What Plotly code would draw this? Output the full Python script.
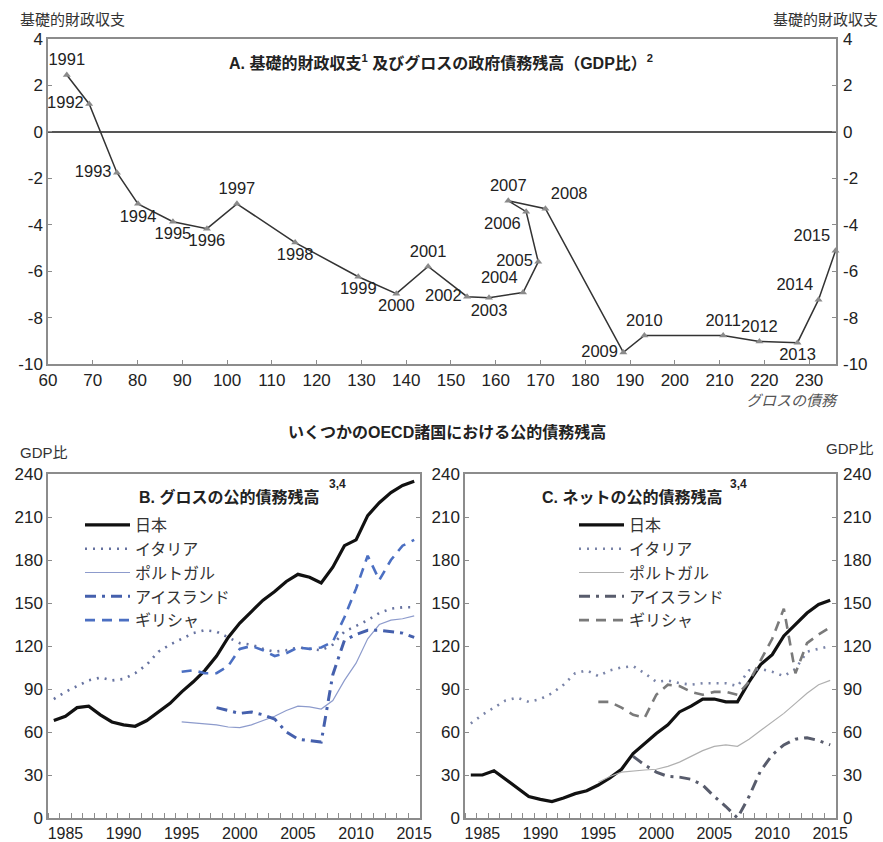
import plotly.graph_objects as go

FONT = "Liberation Sans, Arial, Noto Sans CJK JP, sans-serif"

# ---- Panel A: primary balance vs gross debt (Japan) ----
a_years = [str(y) for y in range(1991, 2016)]
a_debt = [64.2, 69.2, 75.4, 80.1, 87.9, 95.5, 102.2, 115.2, 129.3, 137.8, 144.9,
          153.6, 158.5, 166.1, 169.5, 166.8, 162.8, 171.1, 188.5, 193.2, 210.8,
          218.9, 227.4, 232.1, 235.9]
a_balance = [2.45, 1.2, -1.76, -3.1, -3.87, -4.17, -3.1, -4.77, -6.24, -6.97, -5.8,
             -7.1, -7.15, -6.92, -5.6, -3.44, -2.97, -3.31, -9.5, -8.77, -8.77,
             -9.03, -9.08, -7.23, -5.12]
a_label_pos = ["top center", "middle left", "middle left", "bottom center", "bottom center",
               "bottom center", "top center", "bottom center", "bottom center", "bottom center",
               "top center", "middle left", "bottom center", "top left", "middle left",
               "bottom left", "top center", "top right", "middle left", "top center",
               "top center", "top center", "bottom center", "top left", "top left"]

# ---- Panels B / C: debt by country, % of GDP ----
years = list(range(1984, 2016))
countries = ["日本", "イタリア", "ポルトガル", "アイスランド", "ギリシャ"]

gross_japan = [68, 71, 77, 78, 72, 67, 65, 64, 68, 74, 80, 88, 95, 103, 113, 126, 136,
               144, 152, 158, 165, 170, 168, 164, 175, 190, 194, 211, 220, 227, 232, 235]
gross_italy = [83, 88, 92, 96, 98, 96, 97, 101, 107, 116, 121, 125, 129, 131, 130, 126, 122,
               121, 118, 116, 117, 119, 118, 117, 121, 130, 134, 138, 143, 146, 147, 147]
gross_portugal = [67, 66.5, 66, 65, 63.5, 63, 65, 68, 71, 75, 78, 77.5, 76, 82, 96, 108,
                  125, 135, 138, 139, 141]
gross_iceland = [77, 75, 73, 74, 72, 69, 60, 55, 54, 53, 100, 124, 128, 131, 131, 130, 129, 126]
gross_greece = [102, 103, 101, 101, 106, 118, 120, 117, 113, 115, 119, 118, 119, 123, 140,
                160, 183, 166, 180, 190, 194]

net_japan = [30, 30, 33, 27, 21, 15, 13, 11.5, 14, 17, 19, 23, 28, 34, 45, 52, 59, 65, 74,
             78, 83, 83, 81, 81, 95, 107, 114, 127, 135, 143, 149, 152]
net_italy = [66, 72, 77, 82, 84, 81, 83, 87, 93, 101, 103, 99, 103, 105, 106, 101, 95, 96,
             94, 93, 94, 94, 94, 92, 103, 104, 102, 99, 104, 116, 118, 120]
net_portugal = [25, 29, 32, 33, 33.5, 34, 36, 39, 43, 47, 50, 51, 50, 55, 61, 67, 73, 80,
                87, 93, 96]
net_iceland = [43, 37, 32, 29, 28.5, 27, 23, 15, 8, 0, 15, 33, 44, 51, 55, 56, 54, 51]
net_greece = [81, 81, 77, 72, 70, 86, 93, 92, 88, 86, 88, 88, 86, 95, 110, 125, 146, 101,
              122, 128, 133]

x_ticks_a = list(range(60, 240, 10))
y_ticks_a = list(range(-10, 5, 2))
x_ticks_bc = list(range(1985, 2016, 5))
y_ticks_bc = list(range(0, 241, 30))

# layout geometry (pixels of the 883x842 page)
W, H = 883, 842
L, R, T, B = 48, 47, 39, 24
PW, PH = W - L - R, H - T - B


def px(x):
    return (x - L) / PW


def py(y):
    return (H - B - y) / PH


styles_b = [
    dict(color="#111111", width=3.2),
    dict(color="#6672a0", width=2.6, dash="2px,6px"),
    dict(color="#8d9bcc", width=1.2),
    dict(color="#4560ad", width=3, dash="11px,6px,3px,6px"),
    dict(color="#4b6fc2", width=2.6, dash="10px,7px"),
]
styles_c = [
    dict(color="#111111", width=3.2),
    dict(color="#7a84a8", width=2.6, dash="2px,6px"),
    dict(color="#b0b0b0", width=1.2),
    dict(color="#585c6c", width=3, dash="11px,6px,3px,6px"),
    dict(color="#7a7a7a", width=2.6, dash="10px,7px"),
]


def tail(vals):
    return years[len(years) - len(vals):]


fig = go.Figure()

fig.add_trace(go.Scatter(
    x=a_debt, y=a_balance, mode="lines+markers+text", text=a_years,
    textposition=a_label_pos, textfont=dict(size=16.5, color="#222"),
    line=dict(color="#333", width=1.5),
    marker=dict(symbol="triangle-up", size=7, color="#8a8a8a"),
    showlegend=False, xaxis="x", yaxis="y", cliponaxis=False))
# invisible copy so the right-hand axis is drawn
fig.add_trace(go.Scatter(x=a_debt, y=a_balance, mode="lines", opacity=0, hoverinfo="skip",
                         line=dict(width=0), showlegend=False, xaxis="x", yaxis="y2"))

gross = [gross_japan, gross_italy, gross_portugal, gross_iceland, gross_greece]
net = [net_japan, net_italy, net_portugal, net_iceland, net_greece]
for name, vals, st in zip(countries, gross, styles_b):
    fig.add_trace(go.Scatter(x=tail(vals), y=vals, mode="lines", name=name, line=st,
                             xaxis="x3", yaxis="y3", legend="legend"))
for name, vals, st in zip(countries, net, styles_c):
    fig.add_trace(go.Scatter(x=tail(vals), y=vals, mode="lines", name=name, line=st,
                             xaxis="x4", yaxis="y4", legend="legend2"))
fig.add_trace(go.Scatter(x=years, y=net_japan, mode="lines", opacity=0, hoverinfo="skip",
                         line=dict(width=0), showlegend=False, xaxis="x4", yaxis="y5"))

axis_common = dict(showline=True, linecolor="#8c8c8c", linewidth=1.5, showgrid=False,
                   zeroline=False, ticks="inside", ticklen=4, tickcolor="#8c8c8c",
                   tickfont=dict(size=17, color="#222"), automargin=False)

ya = [py(364), 1]
yb = [0, py(474)]
minor_bc = dict(tickmode="array", tickvals=[y - 0.5 for y in years] + [years[-1] + 0.5],
                ticks="inside", ticklen=5, tickcolor="#8c8c8c")
ya_text = [str(v) for v in y_ticks_a]
xbc_font = dict(size=16, color="#222")

fig.update_layout(
    width=W, height=H, margin=dict(l=L, r=R, t=T, b=B),
    paper_bgcolor="white", plot_bgcolor="white",
    font=dict(family=FONT, color="#222"),
    xaxis=dict(axis_common, domain=[0, 1], range=[60, 236], tickvals=x_ticks_a,
               mirror=True, anchor="y"),
    yaxis=dict(axis_common, domain=ya, range=[-10, 4], tickvals=y_ticks_a, ticktext=ya_text,
               mirror="ticks", anchor="x", zeroline=True, zerolinecolor="#555",
               zerolinewidth=1.8),
    yaxis2=dict(axis_common, overlaying="y", side="right", range=[-10, 4],
                tickvals=y_ticks_a, ticktext=ya_text, anchor="x", showline=False,
                ticklabelstandoff=6),
    xaxis3=dict(axis_common, domain=[0, px(420)], range=[1983.5, 2015.5],
                tickvals=x_ticks_bc, ticks="", minor=minor_bc, mirror=True, anchor="y3",
                tickfont=xbc_font),
    yaxis3=dict(axis_common, domain=yb, range=[0, 240], tickvals=y_ticks_bc,
                mirror="ticks", anchor="x3"),
    xaxis4=dict(axis_common, domain=[px(465), 1], range=[1983.5, 2015.5],
                tickvals=x_ticks_bc, ticks="", minor=minor_bc, mirror=True, anchor="y4",
                tickfont=xbc_font),
    yaxis4=dict(axis_common, domain=yb, range=[0, 240], tickvals=y_ticks_bc,
                mirror="ticks", anchor="x4"),
    yaxis5=dict(axis_common, overlaying="y4", side="right", range=[0, 240],
                tickvals=y_ticks_bc, anchor="x4", showline=False, ticklabelstandoff=6),
    legend=dict(x=px(80), y=py(508), xanchor="left", yanchor="top",
                bgcolor="rgba(0,0,0,0)", font=dict(size=16, color="#333"),
                itemwidth=45),
    legend2=dict(x=px(574), y=py(508), xanchor="left", yanchor="top",
                 bgcolor="rgba(0,0,0,0)", font=dict(size=16, color="#333"),
                 itemwidth=45),
)

ann = [
    dict(text="基礎的財政収支", x=px(18), y=py(20), xanchor="left", size=15, color="#333"),
    dict(text="基礎的財政収支", x=px(880), y=py(20), xanchor="right", size=15, color="#333"),
    dict(text="<b>A. 基礎的財政収支<sup>1</sup> 及びグロスの政府債務残高（GDP比）<sup>2</sup></b>",
         x=px(441), y=py(62), xanchor="center", size=16, color="#222"),
    dict(text="<i>グロスの債務</i>", x=px(840), y=py(400), xanchor="right", size=15, color="#555"),
    dict(text="<b>いくつかのOECD諸国における公的債務残高</b>", x=px(447), y=py(432),
         xanchor="center", size=16, color="#222"),
    dict(text="GDP比", x=px(18), y=py(452), xanchor="left", size=15, color="#333"),
    dict(text="GDP比", x=px(876), y=py(448), xanchor="right", size=15, color="#333"),
    dict(text="<b>B. グロスの公的債務残高</b>", x=px(229), y=py(497), xanchor="center",
         size=16, color="#222"),
    dict(text="<b>3,4</b>", x=px(337), y=py(484), xanchor="center", size=12, color="#222"),
    dict(text="<b>C. ネットの公的債務残高</b>", x=px(632), y=py(497), xanchor="center",
         size=16, color="#222"),
    dict(text="<b>3,4</b>", x=px(738), y=py(484), xanchor="center", size=12, color="#222"),
]
for a in ann:
    fig.add_annotation(text=a["text"], x=a["x"], y=a["y"], xref="paper", yref="paper",
                       xanchor=a["xanchor"], yanchor="middle", showarrow=False,
                       font=dict(size=a["size"], color=a["color"], family=FONT))

fig.write_html("out.html", config={"displayModeBar": False},
               post_script="document.body.style.margin='0';")
